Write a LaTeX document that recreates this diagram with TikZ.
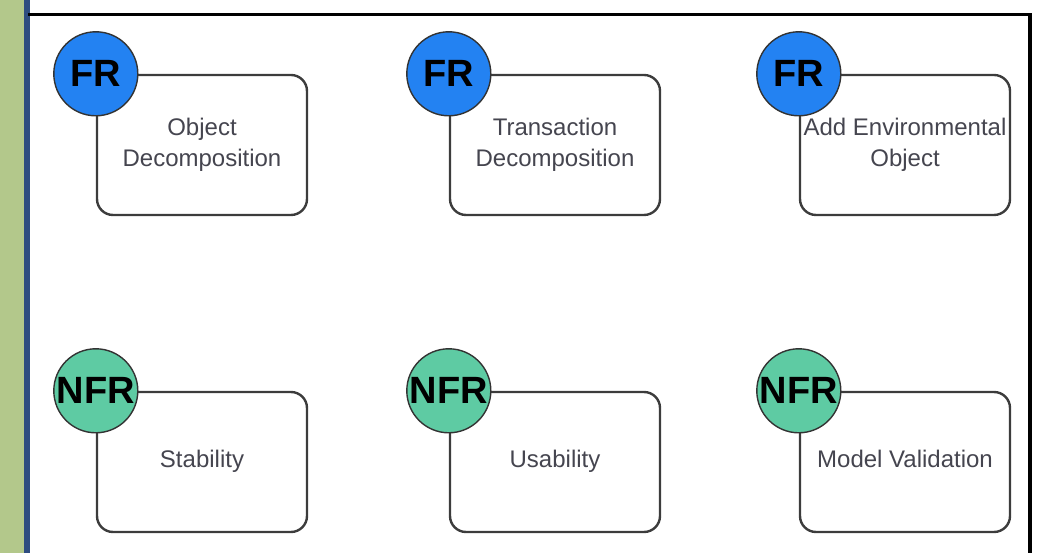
\documentclass[tikz,border=0pt]{standalone}
\usepackage{fontspec}
\setmainfont{Liberation Sans}
\definecolor{sidegreen}{HTML}{B3C88B}
\definecolor{sideblue}{HTML}{2E4D80}
\definecolor{frblue}{HTML}{2382F2}
\definecolor{nfrgreen}{HTML}{5ECBA3}
\definecolor{boxline}{HTML}{3C3C3C}
\definecolor{labeltext}{HTML}{45454F}
\begin{document}
\begin{tikzpicture}[x=1pt, y=1pt,
  reqbox/.style = {shape=rectangle, rounded corners=16pt,
    draw=boxline, line width=2.4pt, fill=white,
    minimum width=210pt, minimum height=140pt, inner sep=0pt,
    align=center, text=labeltext,
    font=\fontsize{24}{31}\selectfont},
  onelinebox/.style = {reqbox, text height=17pt, text depth=5pt},
  badge/.style = {shape=circle, draw=black!80, line width=1.4pt,
    minimum size=84pt, inner sep=0pt,
    font=\bfseries\fontsize{38}{38}\selectfont},
  frbadge/.style = {badge, fill=frblue},
  nfrbadge/.style = {badge, fill=nfrgreen}]
  \useasboundingbox (0,0) rectangle (1051,553);
  % side strip and frame
  \fill[sidegreen] (0,0) rectangle (24,553);
  \fill[sideblue] (24,0) rectangle (30,553);
  \draw[line width=3.5pt] (28,538.5) -- (1030,538.5) -- (1030,0);
  % functional requirements
  \node[reqbox] (objdec) at (202,408) {Object\\Decomposition};
  \node[reqbox] (transdec) at (555,408) {Transaction\\Decomposition};
  \node[reqbox] (addenv) at (905,408) {Add Environmental\\Object};
  \node[frbadge] (fr1) at (objdec.north west) {FR};
  \node[frbadge] (fr2) at (transdec.north west) {FR};
  \node[frbadge] (fr3) at (addenv.north west) {FR};
  % non-functional requirements
  \node[onelinebox] (stab) at (202,91) {Stability};
  \node[onelinebox] (usab) at (555,91) {Usability};
  \node[onelinebox] (modval) at (905,91) {Model Validation};
  \node[nfrbadge] (nfr1) at (stab.north west) {NFR};
  \node[nfrbadge] (nfr2) at (usab.north west) {NFR};
  \node[nfrbadge] (nfr3) at (modval.north west) {NFR};
\end{tikzpicture}
\end{document}
